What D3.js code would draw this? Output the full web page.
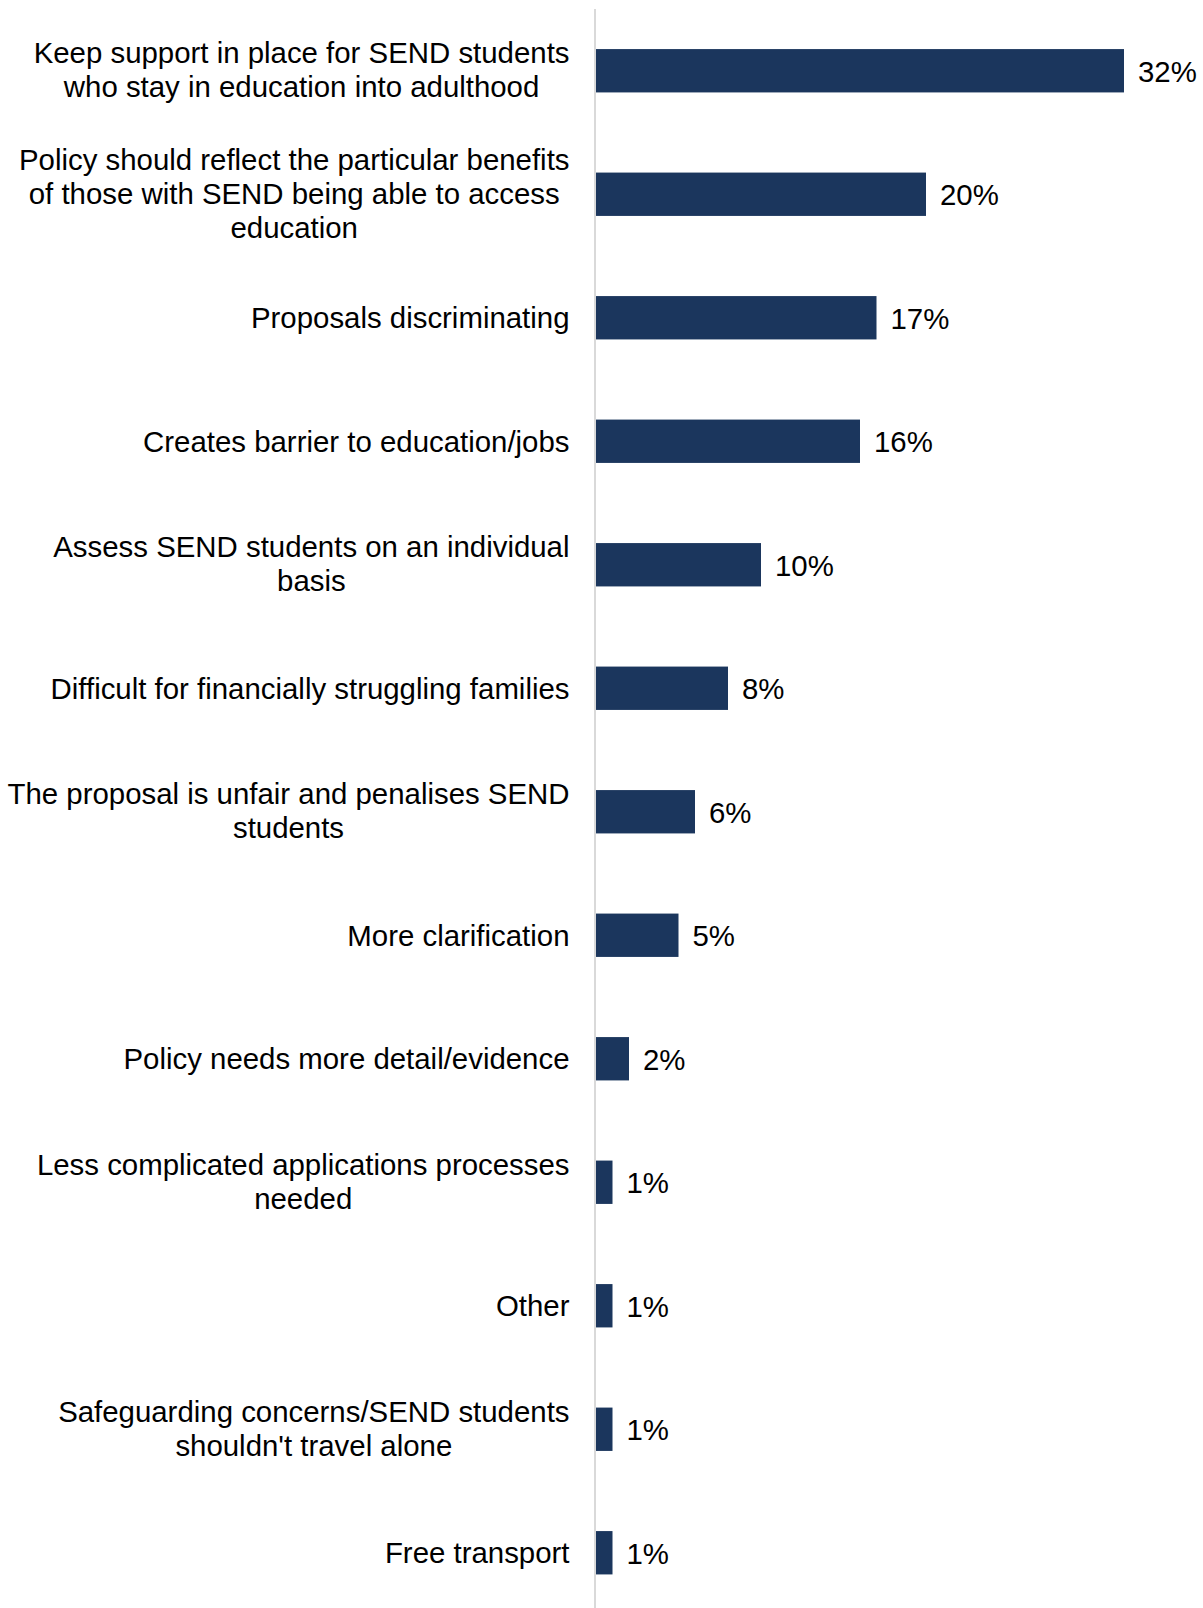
<!DOCTYPE html>
<html>
<head>
<meta charset="utf-8">
<script src="https://cdn.jsdelivr.net/npm/d3@7"></script>
<style>
  html, body { margin: 0; padding: 0; background: #ffffff; }
  svg { display: block; }
  text { font-family: "Liberation Sans", Arial, sans-serif; fill: #000000; }
</style>
</head>
<body>
<svg id="chart" width="1203" height="1608"></svg>
<script>
const categories = [
  ["Keep support in place for SEND students", "who stay in education into adulthood"],
  ["Policy should reflect the particular benefits", "of those with SEND being able to access", "education"],
  ["Proposals discriminating"],
  ["Creates barrier to education/jobs"],
  ["Assess SEND students on an individual", "basis"],
  ["Difficult for financially struggling families"],
  ["The proposal is unfair and penalises SEND", "students"],
  ["More clarification"],
  ["Policy needs more detail/evidence"],
  ["Less complicated applications processes", "needed"],
  ["Other"],
  ["Safeguarding concerns/SEND students", "shouldn't travel alone"],
  ["Free transport"]
];
const values = [32, 20, 17, 16, 10, 8, 6, 5, 2, 1, 1, 1, 1];
const valueLabels = ["32%", "20%", "17%", "16%", "10%", "8%", "6%", "5%", "2%", "1%", "1%", "1%", "1%"];

const svg = d3.select("#chart");
const x0 = 596, fontSize = 29.4, lineH = 34, labelRight = 569.5;
const x = d3.scaleLinear().domain([0, 32]).range([x0, 1124]);
const ids = d3.range(categories.length);
const y = d3.scaleBand().domain(ids).range([9, 1614.5]).paddingInner(0.649).paddingOuter(0.3245);

// axis line
svg.append("line")
  .attr("x1", 595).attr("x2", 595)
  .attr("y1", 9).attr("y2", 1608)
  .attr("stroke", "#d9d9d9").attr("stroke-width", 2);

// bars
svg.selectAll("rect.bar").data(ids).join("rect")
  .attr("class", "bar")
  .attr("x", x(0))
  .attr("y", i => y(i))
  .attr("width", i => x(values[i]) - x(0))
  .attr("height", y.bandwidth())
  .attr("fill", "#1b365d");

// value labels
svg.selectAll("text.val").data(ids).join("text")
  .attr("class", "val")
  .attr("x", i => x(values[i]) + 14)
  .attr("y", i => y(i) + y.bandwidth() / 2 + 11)
  .attr("font-size", fontSize)
  .text(i => valueLabels[i]);

// category labels (block right-aligned, lines centred within block)
const lab = svg.selectAll("text.cat").data(ids).join("text")
  .attr("class", "cat")
  .attr("font-size", fontSize);
lab.each(function(i) {
  const lines = categories[i];
  const cy = y(i) + y.bandwidth() / 2;
  const first = lines.length === 1 ? cy + 10.5 : cy - (lines.length - 1) * lineH / 2 + 9.6;
  const g = d3.select(this);
  const spans = g.selectAll("tspan").data(lines).join("tspan")
    .attr("y", (d, k) => first + k * lineH)
    .text(d => d);
  let maxW = 0;
  spans.each(function() { maxW = Math.max(maxW, this.getComputedTextLength()); });
  g.attr("text-anchor", "middle");
  spans.attr("x", labelRight - maxW / 2);
});
</script>
</body>
</html>
